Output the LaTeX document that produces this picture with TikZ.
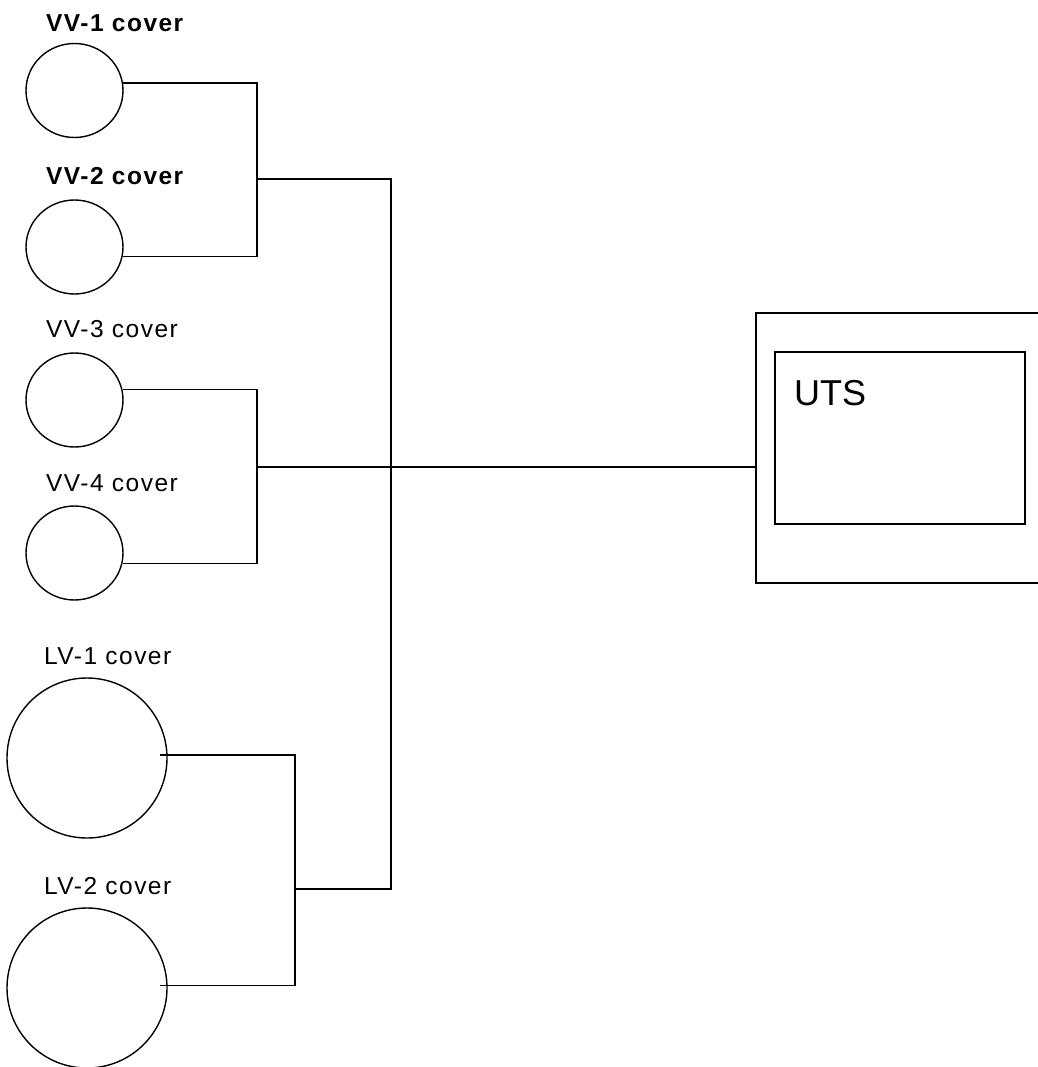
\documentclass[tikz,border=0pt]{standalone}
\usepackage{fontspec}
\setmainfont{Liberation Sans}
\newfontfamily\lblfont[LetterSpace=6]{Liberation Sans}
\usetikzlibrary{shapes.geometric,calc}
\tikzset{
  wire/.style={draw=black,line width=1.4pt},
  vvcirc/.style={ellipse,draw=black,line width=1.4pt,minimum width=97pt,minimum height=94pt,inner sep=0pt},
  lvcirc/.style={ellipse,draw=black,line width=1.4pt,minimum width=160pt,minimum height=160pt,inner sep=0pt},
  lbl/.style={anchor=base west,inner sep=0pt,font=\lblfont\fontsize{24.5}{28}\selectfont},
  lblb/.style={lbl,font=\lblfont\bfseries\fontsize{24.5}{28}\selectfont},
  boxo/.style={rectangle,draw=black,line width=1.4pt,inner sep=0pt},
}
\begin{document}
\begin{tikzpicture}[x=1pt,y=-1pt]
\useasboundingbox (0,0) rectangle (1037,1067);
% labels
\node[lblb] (t1) at (46,31.7) {VV-1 cover};
\node[lblb] (t2) at (46,184.3) {VV-2 cover};
\node[lbl] (t3) at (46,337) {VV-3 cover};
\node[lbl] (t4) at (46,491) {VV-4 cover};
\node[lbl] (t5) at (44,664) {LV-1 cover};
\node[lbl] (t6) at (44,894) {LV-2 cover};
% circles
\node[vvcirc] (vv1) at (74.5,90.5) {};
\node[vvcirc] (vv2) at (74.5,247) {};
\node[vvcirc] (vv3) at (74.5,400) {};
\node[vvcirc] (vv4) at (74.5,553) {};
\node[lvcirc] (lv1) at (87,758) {};
\node[lvcirc] (lv2) at (87,988) {};
% UTS box
\node[boxo,minimum width=290pt,minimum height=270pt] (outer) at (901,448) {};
\node[boxo,minimum width=250pt,minimum height=172pt] (inner) at (900,438) {};
\node[anchor=base west,inner sep=0pt,font=\fontsize{36}{40}\selectfont] (uts) at (794,405.7) {UTS};
% junction coordinates
\coordinate (jA) at (257,179);
\coordinate (jC) at (257,467);
\coordinate (jBus) at (391,889);
\coordinate (jLV) at (295,889);
\coordinate (lv1w) at (160,755);
\coordinate (lv2w) at (160,985.7);
% wires
\draw[wire] (vv1.9) -| (jA);
\draw[wire] (vv2.-11) -| (jA);
\draw[wire] (vv3.12) -| (jC);
\draw[wire] (vv4.-12) -| (jC);
\draw[wire] (jA) -| (jBus) -- (jLV);
\draw[wire] (jC) -- (jC -| outer.west);
\draw[wire] (lv1w) -| (jLV);
\draw[wire] (lv2w) -| (jLV);
\end{tikzpicture}
\end{document}
